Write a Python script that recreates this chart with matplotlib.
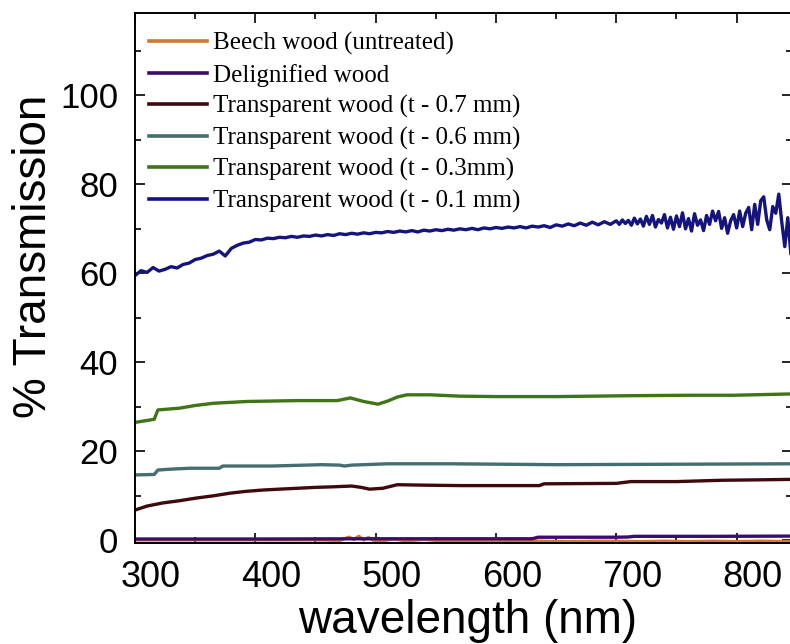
import matplotlib
matplotlib.use("Agg")
import matplotlib.pyplot as plt
import matplotlib.transforms as mtransforms
from matplotlib.ticker import MultipleLocator

# ---------------- data ----------------
labels = ["Beech wood (untreated)", "Delignified wood",
          "Transparent wood (t - 0.7 mm)", "Transparent wood (t - 0.6 mm)",
          "Transparent wood (t - 0.3mm)", "Transparent wood (t - 0.1 mm)"]
colors = ["#D4782E", "#3C0B6E", "#3E0A0E", "#456E70", "#3F7417", "#14147C"]

beech_x = [300, 350, 400, 450, 470, 478, 482, 486, 490, 494, 498, 505, 515, 525,
           540, 560, 580, 600, 620, 640, 660, 680, 700, 720, 740, 760, 780, 800, 820, 846]
beech_y = [0.1, 0.1, 0.1, 0.1, 0.0, 0.7, 0.2, 0.9, 0.1, 0.6, 0.0, -0.1, 0.3, -0.1,
           0.2, -0.2, 0.0, -0.2, -0.1, -0.2, -0.3, -0.2, -0.2, -0.3, -0.2, -0.3, -0.2, -0.3, -0.2, -0.3]

delig_x = [300, 400, 500, 630, 635, 700, 710, 715, 780, 846]
delig_y = [0.3, 0.3, 0.35, 0.35, 0.7, 0.7, 0.75, 0.9, 0.9, 0.95]

t07_x = [300, 310, 323, 337, 351, 365, 379, 392, 406, 420, 435, 450, 462, 480, 488, 495,
         506, 512, 518, 540, 570, 600, 636, 640, 700, 712, 750, 788, 820, 846]
t07_y = [6.8, 7.7, 8.4, 8.9, 9.5, 10.0, 10.6, 11.0, 11.3, 11.5, 11.7, 11.9, 12.0, 12.2, 11.9, 11.5,
         11.7, 12.1, 12.5, 12.4, 12.3, 12.3, 12.3, 12.7, 12.8, 13.2, 13.2, 13.5, 13.6, 13.7]

t06_x = [300, 316, 319, 330, 346, 370, 373, 414, 455, 470, 474, 480, 510, 562, 650, 750, 846]
t06_y = [14.7, 14.8, 15.8, 16.0, 16.2, 16.2, 16.7, 16.7, 17.0, 16.9, 16.7, 16.9, 17.2, 17.2, 17.0, 17.1, 17.2]

t03_x = [300, 316, 319, 337, 350, 365, 393, 435, 468, 479, 490, 502, 510, 518, 526,
         545, 570, 600, 650, 711, 760, 797, 846]
t03_y = [26.5, 27.2, 29.3, 29.7, 30.3, 30.8, 31.2, 31.4, 31.4, 32.0, 31.2, 30.6, 31.3, 32.2, 32.7,
         32.7, 32.4, 32.3, 32.3, 32.5, 32.6, 32.6, 32.9]

t01_x = [300, 305, 310, 315, 320, 325, 330, 335, 340, 345, 350, 355, 360, 365, 370, 375,
         380, 385, 390, 395, 400, 405, 410, 415, 420, 425, 430, 435, 440, 445, 450, 455,
         460, 465, 470, 475, 480, 485, 490, 495, 500, 505, 510, 515, 520, 525, 530, 535,
         540, 545, 550, 555, 560, 565, 570, 575, 580, 585, 590, 595, 600, 605, 610, 615,
         620, 625, 630, 635, 640, 645, 650, 655, 660, 665, 670, 675, 680, 685, 690, 695,
         700, 702.5, 705, 707.5, 710, 712.5, 715, 717.5, 720, 722.5, 725, 727.5, 730, 732.5,
         735, 737.5, 740, 742.5, 745, 747.5, 750, 752.5, 755, 757.5, 760, 762.5, 765, 767.5,
         770, 772.5, 775, 777.5, 780, 782.5, 785, 787.5, 790, 792.5, 795, 797.5, 800, 802.5,
         805, 807.5, 810, 812.5, 815, 817.5, 820, 822.5, 825, 827.5, 830, 832.5, 835, 837.5,
         840, 842.5, 845]
t01_y = [59.5, 60.6, 60.2, 61.3, 60.5, 60.9, 61.5, 61.2, 62.0, 62.3, 63.1, 63.4, 64.0, 64.3, 65.0, 63.9,
         65.6, 66.3, 66.8, 67.0, 67.6, 67.5, 67.9, 67.8, 68.1, 68.0, 68.3, 68.1, 68.4, 68.3, 68.6, 68.4,
         68.7, 68.5, 68.9, 68.7, 69.0, 68.8, 69.1, 68.9, 69.2, 69.1, 69.4, 69.2, 69.5, 69.3, 69.6, 69.3,
         69.7, 69.5, 69.8, 69.6, 69.9, 69.7, 70.0, 69.8, 70.1, 69.8, 70.2, 70.0, 70.3, 70.1, 70.4, 70.2,
         70.5, 70.2, 70.6, 70.4, 70.7, 70.3, 70.9, 70.6, 71.1, 70.7, 71.3, 70.8, 71.5, 70.9, 71.6, 71.0,
         71.8, 71.0, 72.0, 71.2, 71.9, 70.8, 72.4, 71.1, 72.2, 70.6, 72.8, 71.0, 73.0, 70.4,
         72.1, 71.3, 73.2, 70.2, 72.6, 69.9, 72.9, 70.5, 73.6, 70.0, 72.3, 69.5, 73.4, 70.8,
         72.0, 69.6, 73.0, 71.0, 74.0, 71.8, 73.9, 70.1, 72.5, 69.0, 71.8, 73.2, 70.2, 74.0,
         70.5, 73.5, 74.8, 69.8, 75.5, 71.0, 76.3, 77.2, 72.0, 69.8, 75.0, 73.5, 77.8, 71.5,
         66.0, 72.5, 64.5]

series_x = [beech_x, delig_x, t07_x, t06_x, t03_x, t01_x]
series_y = [beech_y, delig_y, t07_y, t06_y, t03_y, t01_y]

x_ticks = [300, 400, 500, 600, 700, 800]
y_ticks = [0, 20, 40, 60, 80, 100]

# ---------------- figure ----------------
W, H, DPI = 790, 644, 100
fig = plt.figure(figsize=(W / DPI, H / DPI), dpi=DPI)
left_px, right_px, top_px, bot_px = 135, 792, 13, 543
ax = fig.add_axes([left_px / W, 1 - bot_px / H, (right_px - left_px) / W, (bot_px - top_px) / H])

for xs, ys, c, lab in zip(series_x, series_y, colors, labels):
    ax.plot(xs, ys, color=c, lw=2.4, label=lab, solid_joinstyle="round")

ax.set_xlim(300, 846)
ax.set_ylim(-0.6, 118.5)
ax.set_xticks(x_ticks)
ax.set_yticks(y_ticks)
ax.xaxis.set_minor_locator(MultipleLocator(50))
ax.yaxis.set_minor_locator(MultipleLocator(10))

sans = ["Liberation Sans", "DejaVu Sans"]
ax.tick_params(which="both", direction="in", top=True, right=True, width=1.2, color="black")
ax.tick_params(which="major", length=7.5)
ax.tick_params(which="minor", length=4)
ax.tick_params(axis="x", labelsize=26, pad=12)
ax.tick_params(axis="y", labelsize=25, pad=12)
for lab in ax.get_xticklabels() + ax.get_yticklabels():
    lab.set_fontfamily(sans)
for sp in ax.spines.values():
    sp.set_linewidth(1.4)

# x tick labels sit a little to the right of their ticks in the reference
offset = mtransforms.ScaledTranslation(16 / DPI, 0, fig.dpi_scale_trans)
for t in ax.xaxis.get_major_ticks():
    t.label1.set_transform(t.label1.get_transform() + offset)

fig.text(34 / W, 1 - 256 / H, "% Transmission", rotation=90, ha="center", va="center",
         fontsize=33, family=sans)
fig.text(468 / W, 1 - 633 / H, "wavelength (nm)", ha="center", va="baseline",
         fontsize=33, family=sans)

leg = ax.legend(loc="upper left", bbox_to_anchor=(0.0214, 0.964), frameon=False,
                borderaxespad=0, borderpad=0, labelspacing=0.34, handlelength=2.3,
                handletextpad=0.24, prop={"family": ["Liberation Serif", "DejaVu Serif"], "size": 18})
for h in leg.get_lines():
    h.set_linewidth(2.6)

fig.savefig("out.png", dpi=DPI)
